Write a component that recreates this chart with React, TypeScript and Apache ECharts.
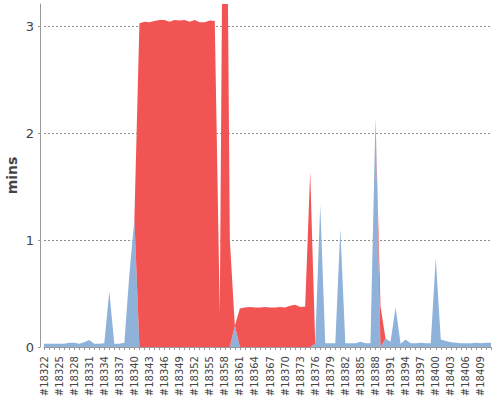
import React, { useEffect, useRef } from "react";
import * as echarts from "echarts";

const FIRST_BUILD = 18322;
const BUILD_COUNT = 90;
const builds: string[] = Array.from({ length: BUILD_COUNT }, (_, i) => `#${FIRST_BUILD + i}`);

// Duration (minutes) of successful builds (0 where the build failed)
const successMins = [
  0.03, 0.03, 0.03, 0.03, 0.03, 0.04, 0.04, 0.03, 0.045, 0.065,
  0.03, 0.03, 0.035, 0.52, 0.03, 0.03, 0.04, 0.68, 1.2, 0,
  0, 0, 0, 0, 0, 0, 0, 0, 0, 0,
  0, 0, 0, 0, 0, 0, 0, 0, 0.2, 0,
  0, 0, 0, 0, 0, 0, 0, 0, 0, 0,
  0, 0, 0, 0, 0.03, 1.33, 0.035, 0.035, 0.035, 1.1,
  0.035, 0.035, 0.035, 0.05, 0.035, 0.035, 2.15, 0, 0.08, 0.05,
  0.37, 0.03, 0.07, 0.035, 0.035, 0.04, 0.035, 0.035, 0.83, 0.07,
  0.055, 0.045, 0.04, 0.035, 0.035, 0.035, 0.04, 0.035, 0.04, 0.04,
];

// Duration (minutes) of failed builds (0 where the build succeeded)
const failureMins = [
  0, 0, 0, 0, 0, 0, 0, 0, 0, 0,
  0, 0, 0, 0, 0, 0, 0, 0, 0, 3.03,
  3.045, 3.04, 3.05, 3.06, 3.06, 3.045, 3.06, 3.055, 3.06, 3.045,
  3.06, 3.04, 3.04, 3.055, 3.05, 0.32, 7.0, 1.0, 0, 0.36,
  0.37, 0.375, 0.37, 0.37, 0.375, 0.37, 0.37, 0.375, 0.37, 0.385,
  0.395, 0.375, 0.38, 1.64, 0, 0, 0, 0, 0, 0,
  0, 0, 0, 0, 0, 0, 0, 0.38, 0, 0,
  0, 0, 0, 0, 0, 0, 0, 0, 0, 0,
  0, 0, 0, 0, 0, 0, 0, 0, 0, 0,
];

const Y_MIN = 0;
const Y_MAX = 3.21;
const Y_STEP = 1;

const FONT = "DejaVu Sans";
const BLUE = "#8EB2D9";
const RED = "#F25454";

export default function App() {
  const ref = useRef<HTMLDivElement>(null);
  useEffect(() => {
    if (!ref.current) return;
    const chart = echarts.init(ref.current, null, { renderer: "svg" });
    chart.setOption({
      animation: false,
      backgroundColor: "#ffffff",
      grid: {
        left: 44,
        right: 9,
        top: 4,
        bottom: 53,
        containLabel: false,
        outerBoundsMode: "none",
      },
      xAxis: {
        type: "category",
        data: builds,
        boundaryGap: false,
        offset: 4,
        axisLine: { show: true, lineStyle: { color: "#999999", width: 1 } },
        axisTick: { show: true, interval: 0, length: 3, lineStyle: { color: "#999999" } },
        axisLabel: {
          interval: 2,
          rotate: 90,
          fontSize: 10,
          fontFamily: FONT,
          color: "#444444",
          margin: 5,
        },
        splitLine: { show: false },
      },
      yAxis: {
        type: "value",
        min: Y_MIN,
        max: Y_MAX,
        interval: Y_STEP,
        offset: 4,
        name: "mins",
        nameLocation: "middle",
        nameGap: 21,
        nameMoveOverlap: false,
        nameTextStyle: { fontFamily: FONT, fontWeight: "bold", fontSize: 14, color: "#444444" },
        axisLine: { show: true, lineStyle: { color: "#999999", width: 1 } },
        axisTick: { show: true, length: 2, lineStyle: { color: "#999999" } },
        axisLabel: {
          color: "#444444",
          fontSize: 13,
          fontFamily: FONT,
          margin: 6,
          showMaxLabel: false,
          formatter: (v: number) => (Number.isInteger(v) ? String(v) : ""),
        },
        splitLine: {
          show: true,
          showMaxLine: false,
          lineStyle: { color: "#8c8c8c", type: [2, 2], width: 1 },
        },
      },
      series: [
        {
          type: "line",
          name: "success",
          data: successMins,
          stack: "duration",
          symbol: "none",
          lineStyle: { width: 0 },
          itemStyle: { color: BLUE },
          areaStyle: { color: BLUE, opacity: 1 },
          clip: true,
        },
        {
          type: "line",
          name: "failure",
          data: failureMins,
          stack: "duration",
          symbol: "none",
          lineStyle: { width: 0 },
          itemStyle: { color: RED },
          areaStyle: { color: RED, opacity: 1 },
          clip: true,
        },
      ],
    });
    return () => chart.dispose();
  }, []);
  return (
    <div
      ref={ref}
      style={{ position: "absolute", left: 0, top: 0, width: 500, height: 400 }}
    />
  );
}
